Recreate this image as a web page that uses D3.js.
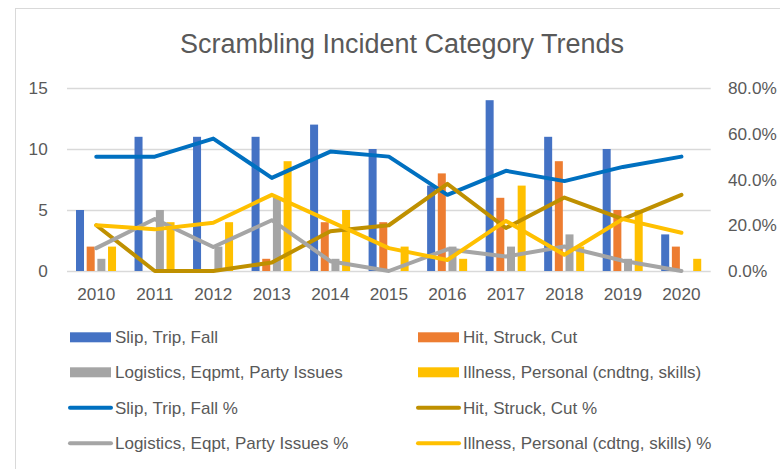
<!DOCTYPE html>
<html>
<head>
<meta charset="utf-8">
<script src="https://cdn.jsdelivr.net/npm/d3@7"></script>
<style>
    body {
        margin: 0;
        background: #fff;
    }
    text {
        font-family: "Liberation Sans", Arial, sans-serif;
        fill: #595959;
    }
</style>
</head>
<body>
<script>
var years = ["2010", "2011", "2012", "2013", "2014", "2015", "2016", "2017", "2018", "2019", "2020"];

// incident counts (left axis)
var slipCounts = [5, 11, 11, 11, 12, 10, 7, 14, 11, 10, 3];
var hitCounts = [2, 0, 0, 1, 4, 4, 8, 6, 9, 5, 2];
var logisticsCounts = [1, 5, 2, 6, 1, 0, 2, 2, 3, 1, 0];
var illnessCounts = [2, 4, 4, 9, 5, 2, 1, 7, 2, 5, 1];

// share of the year, in % (right axis)
var slipPct = [50.0, 50.0, 57.9, 40.7, 52.2, 50.0, 33.3, 43.8, 39.3, 45.5, 50.0];
var hitPct = [20.0, 0.0, 0.0, 3.7, 17.4, 20.0, 38.1, 18.8, 32.1, 22.7, 33.3];
var logisticsPct = [10.0, 22.7, 10.5, 22.2, 4.3, 0.0, 9.5, 6.3, 10.7, 4.5, 0.0];
var illnessPct = [20.0, 18.2, 21.1, 33.3, 21.7, 10.0, 4.8, 21.9, 7.1, 22.7, 16.7];

var leftTicks = [0, 5, 10, 15];
var rightTicks = [0, 20, 40, 60, 80];

var barSeries = [
    {name: "Slip, Trip, Fall", values: slipCounts, color: "#4472C4"},
    {name: "Hit, Struck, Cut", values: hitCounts, color: "#ED7D31"},
    {name: "Logistics, Eqpmt, Party Issues", values: logisticsCounts, color: "#A5A5A5"},
    {name: "Illness, Personal (cndtng, skills)", values: illnessCounts, color: "#FFC000"}
];
var lineSeries = [
    {name: "Slip, Trip, Fall %", values: slipPct, color: "#0070C0"},
    {name: "Hit, Struck, Cut %", values: hitPct, color: "#BF9000"},
    {name: "Logistics, Eqpt, Party Issues %", values: logisticsPct, color: "#A5A5A5"},
    {name: "Illness, Personal (cdtng, skills) %", values: illnessPct, color: "#FFC000"}
];

var width = 780,
    height = 469;

var plot = {
    left: 67,
    right: 710.7,
    top: 88,
    bottom: 271
};

var svg = d3.select("body").append("svg")
    .attr("width", width)
    .attr("height", height);

// chart frame
svg.append("rect")
    .attr("x", 15.5)
    .attr("y", 8.5)
    .attr("width", 800)
    .attr("height", 500)
    .style("fill", "#fff")
    .style("stroke", "#d9d9d9");

svg.append("text")
    .attr("x", 402)
    .attr("y", 52.7)
    .attr("text-anchor", "middle")
    .style("font-size", "27px")
    .text("Scrambling Incident Category Trends");

var x0 = d3.scaleBand()
    .domain(years)
    .range([plot.left, plot.right]);

var x1 = d3.scaleBand()
    .domain(d3.range(barSeries.length))
    .range([x0.bandwidth() * 0.154, x0.bandwidth() * 0.838])
    .paddingInner(0.25);

var yLeft = d3.scaleLinear()
    .domain([0, 15])
    .range([plot.bottom, plot.top]);

var yRight = d3.scaleLinear()
    .domain([0, 80])
    .range([plot.bottom, plot.top]);

// gridlines + left labels
var leftAxis = d3.axisLeft(yLeft)
    .tickValues(leftTicks)
    .tickSize(-(plot.right - plot.left))
    .tickPadding(19.3);

var gLeft = svg.append("g")
    .attr("transform", "translate(" + plot.left + ",0)")
    .call(leftAxis);
gLeft.select(".domain").remove();
gLeft.selectAll(".tick line")
    .style("stroke", "#d9d9d9")
    .style("stroke-width", 1.3);
gLeft.selectAll(".tick text")
    .attr("fill", null)
    .style("font-size", "17.2px");

var rightAxis = d3.axisRight(yRight)
    .tickValues(rightTicks)
    .tickSize(0)
    .tickPadding(17.3)
    .tickFormat(function(d) {
        return d.toFixed(1) + "%";
    });

var gRight = svg.append("g")
    .attr("transform", "translate(" + plot.right + ",0)")
    .call(rightAxis);
gRight.select(".domain").remove();
gRight.selectAll(".tick text")
    .attr("fill", null)
    .style("font-size", "17.2px");

var bottomAxis = d3.axisBottom(x0)
    .tickSize(0)
    .tickPadding(17);

var gBottom = svg.append("g")
    .attr("transform", "translate(0," + plot.bottom + ")")
    .call(bottomAxis);
gBottom.select(".domain").remove();
gBottom.selectAll(".tick text")
    .attr("fill", null)
    .style("font-size", "17.2px");

// bars
var groups = svg.append("g").selectAll(".year")
    .data(years)
    .enter().append("g")
    .attr("class", "year")
    .attr("transform", function(d) {
        return "translate(" + x0(d) + ",0)";
    });

groups.selectAll("rect")
    .data(function(d, i) {
        return barSeries.map(function(s, k) {
            return {k: k, value: s.values[i], color: s.color};
        });
    })
    .enter().append("rect")
    .attr("x", function(d) {
        return x1(d.k);
    })
    .attr("width", x1.bandwidth())
    .attr("y", function(d) {
        return yLeft(d.value);
    })
    .attr("height", function(d) {
        return yLeft(0) - yLeft(d.value);
    })
    .style("fill", function(d) {
        return d.color;
    });

// lines
var line = d3.line()
    .x(function(d, i) {
        return x0(years[i]) + x0.bandwidth() / 2;
    })
    .y(function(d) {
        return yRight(d);
    });

svg.append("g").selectAll(".pct")
    .data(lineSeries)
    .enter().append("path")
    .attr("class", "pct")
    .attr("d", function(d) {
        return line(d.values);
    })
    .style("fill", "none")
    .style("stroke", function(d) {
        return d.color;
    })
    .style("stroke-width", 4)
    .style("stroke-linejoin", "round")
    .style("stroke-linecap", "round");

// legend
var legendRows = [337.3, 372.3, 407.7, 443.3];
var legendCols = [70, 418];
var legendItems = [];
barSeries.forEach(function(s, i) {
    legendItems.push({name: s.name, color: s.color, type: "bar", row: Math.floor(i / 2), col: i % 2});
});
lineSeries.forEach(function(s, i) {
    legendItems.push({name: s.name, color: s.color, type: "line", row: 2 + Math.floor(i / 2), col: i % 2});
});

var legend = svg.append("g").selectAll(".legend")
    .data(legendItems)
    .enter().append("g")
    .attr("class", "legend")
    .attr("transform", function(d) {
        return "translate(" + legendCols[d.col] + "," + legendRows[d.row] + ")";
    });

legend.filter(function(d) { return d.type === "bar"; })
    .append("rect")
    .attr("x", 0)
    .attr("y", -5)
    .attr("width", 41)
    .attr("height", 10)
    .style("fill", function(d) {
        return d.color;
    });

legend.filter(function(d) { return d.type === "line"; })
    .append("line")
    .attr("x1", 0)
    .attr("x2", 41)
    .style("stroke", function(d) {
        return d.color;
    })
    .style("stroke-width", 4)
    .style("stroke-linecap", "round");

legend.append("text")
    .attr("x", 45)
    .attr("dy", "0.35em")
    .style("font-size", "17px")
    .text(function(d) {
        return d.name;
    });
</script>
</body>
</html>
